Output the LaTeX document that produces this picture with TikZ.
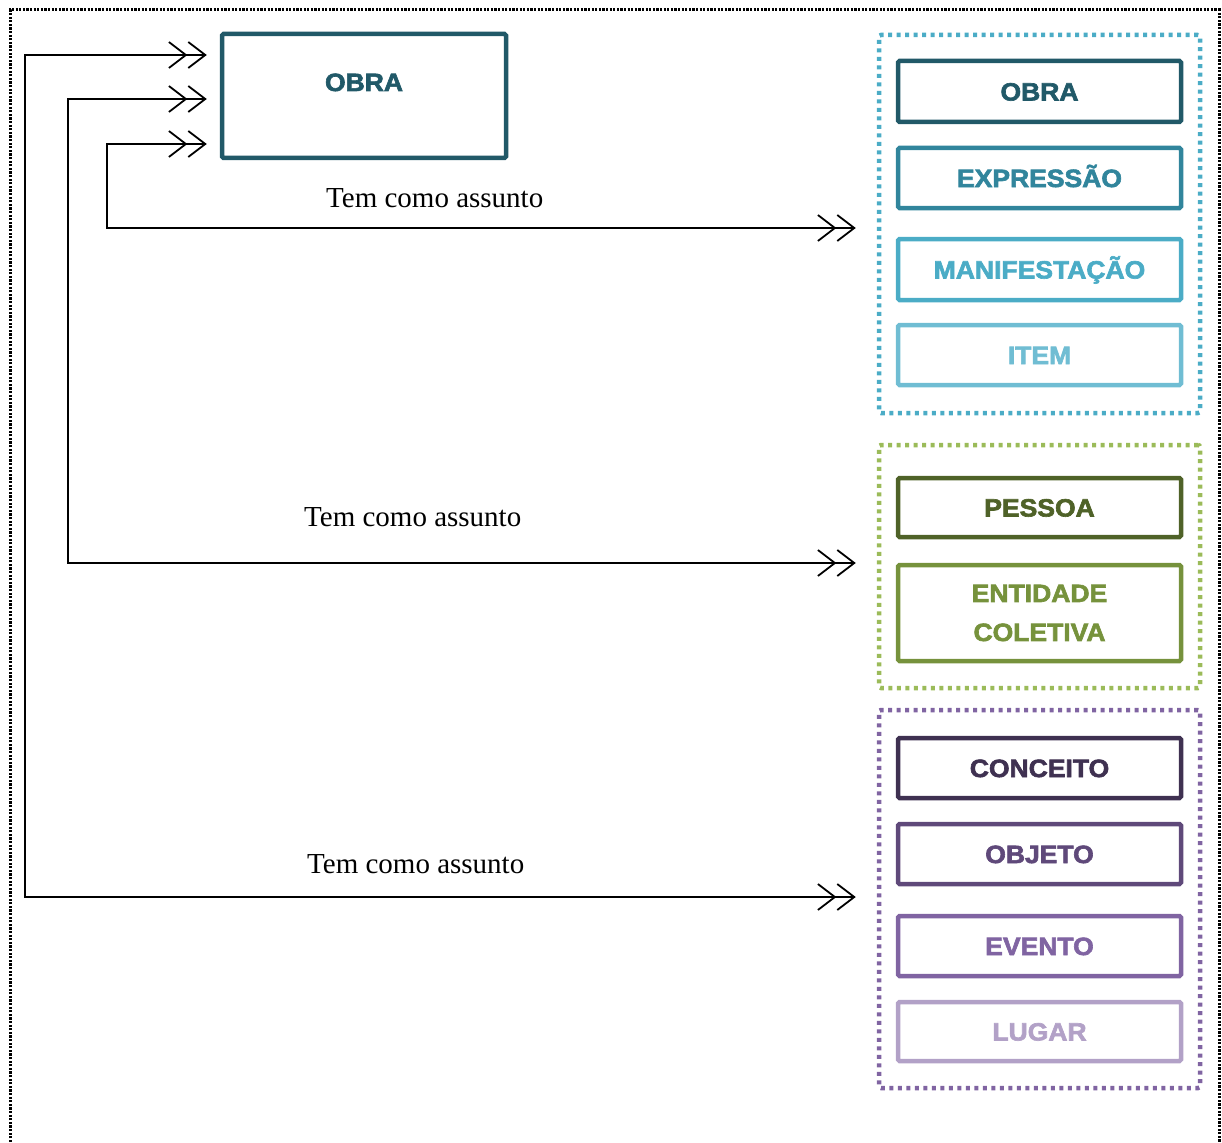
\documentclass[tikz,border=0pt]{standalone}
\usepackage{fontspec}
\setmainfont{Liberation Serif}
\newfontfamily\boxfont{Liberation Sans Bold}[FakeBold=2.5,FakeStretch=1.06]
\usetikzlibrary{arrows.meta}
\definecolor{cObra}{HTML}{215968}
\definecolor{cExp}{HTML}{31859C}
\definecolor{cMan}{HTML}{4BACC6}
\definecolor{cItem}{HTML}{70BDD3}
\definecolor{cG1}{HTML}{4BACC6}
\definecolor{cPes}{HTML}{4F6228}
\definecolor{cEnt}{HTML}{76923C}
\definecolor{cG2}{HTML}{9BBB59}
\definecolor{cCon}{HTML}{3F3151}
\definecolor{cObj}{HTML}{5F497A}
\definecolor{cEve}{HTML}{8064A2}
\definecolor{cLug}{HTML}{B2A1C7}
\definecolor{cG3}{HTML}{8064A2}
\begin{document}
\begin{tikzpicture}[x=1pt,y=-1pt,
  entbase/.style={draw=#1, line width=4.5pt, rounded corners=1.5pt,
    minimum width=283pt, minimum height=60pt, inner sep=0pt, text=#1,
    font=\boxfont\fontsize{25}{39}\selectfont, align=center},
  entbox/.style={entbase=#1, text height=18pt, text depth=0pt},
  grpbox/.style={draw=#1, line width=4.5pt, dash pattern=on 4pt off 4.5pt,
    minimum width=321pt, inner sep=0pt, rounded corners=2pt},
  dtip/.tip={Straight Barb[length=17pt,width=26pt]Straight Barb[length=17pt,width=26pt]},
  link/.style={line width=1.8pt, black, dtip-dtip, shorten <=13pt, shorten >=21pt},
  lbl/.style={font=\fontsize{29}{35}\selectfont, anchor=base west, inner sep=0pt},
  outer/.style={line width=3pt, dash pattern=on 2.2pt off 1.4pt}
]
\path[use as bounding box] (0,0) rectangle (1222,1142);
\draw[outer] (10,1142) -- (10,10) -- (1219,10) -- (1219,1142);

% main OBRA
\node[entbase=cObra, minimum width=284pt, minimum height=124pt, text height=18pt, text depth=28pt] (obra) at (364,96) {OBRA};

% group 1
\node[grpbox=cG1, minimum height=378pt] (g1) at (1039.5,224) {};
\node[entbox=cObra, minimum height=61pt] (o1) at (1039.5,91.5) {OBRA};
\node[entbox=cExp] (e1) at (1039.5,178) {EXPRESSÃO};
\node[entbox=cMan, minimum height=61pt] (m1) at (1039.5,269.5) {MANIFESTAÇÃO};
\node[entbox=cItem] (i1) at (1039.5,355) {ITEM};

% group 2
\node[grpbox=cG2, minimum height=243pt] (g2) at (1039.5,566.5) {};
\node[entbox=cPes, minimum height=59pt] (p2) at (1039.5,507.5) {PESSOA};
\node[entbase=cEnt, minimum height=96pt] (ec2) at (1039.5,613) {ENTIDADE\\COLETIVA};

% group 3
\node[grpbox=cG3, minimum height=378pt] (g3) at (1039.5,899) {};
\node[entbox=cCon] (c3) at (1039.5,768) {CONCEITO};
\node[entbox=cObj] (ob3) at (1039.5,854) {OBJETO};
\node[entbox=cEve] (ev3) at (1039.5,946) {EVENTO};
\node[entbox=cLug, minimum height=59pt] (l3) at (1039.5,1031.5) {LUGAR};

% connectors
\draw[link] (obra.west |- 0,144) -- (107,144) -- (107,228) -- (g1.west |- 0,228);
\draw[link] (obra.west |- 0,99) -- (68,99) -- (68,563) -- (g2.west |- 0,563);
\draw[link] (obra.west |- 0,55) -- (25,55) -- (25,897) -- (g3.west |- 0,897);

% labels
\node[lbl] (t1) at (326,207) {Tem como assunto};
\node[lbl] (t2) at (304,526.5) {Tem como assunto};
\node[lbl] (t3) at (307,873.5) {Tem como assunto};
\end{tikzpicture}
\end{document}
